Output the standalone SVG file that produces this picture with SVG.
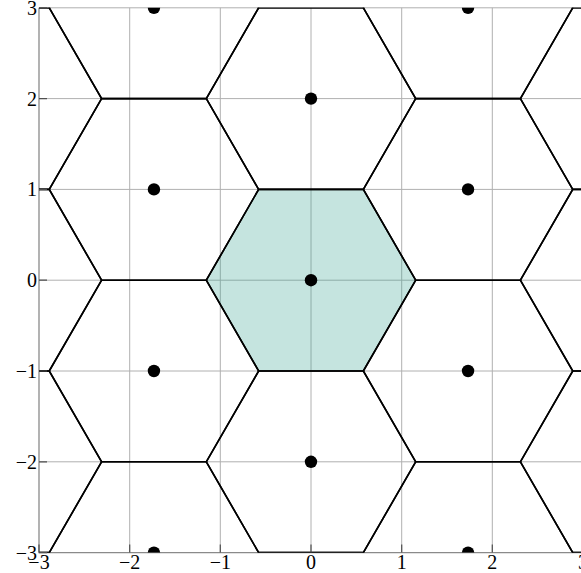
<svg xmlns="http://www.w3.org/2000/svg" xmlns:xlink="http://www.w3.org/1999/xlink" width="581" height="573" viewBox="0 0 581 573">
<style>
.grid{stroke:#b0b0b0;stroke-width:1;fill:none}
.frame{stroke:#8a8a8a;stroke-width:1.3;fill:none}
.tick{stroke:#505050;stroke-width:1.2}
.edge{fill:none;stroke:#000;stroke-width:1.6;stroke-linejoin:miter}
.pt{fill:#000}
text{font-family:"Liberation Serif","Times New Roman",serif;font-size:20px;fill:#000}
</style>
<defs>
<clipPath id="plot"><rect x="39" y="7.8" width="544" height="544.8"/></clipPath>
<path id="hex" d="M-104.7,0 L-52.35,-90.8 L52.35,-90.8 L104.7,0 L52.35,90.8 L-52.35,90.8 Z"/>
</defs>
<rect width="581" height="573" fill="#fff"/>
<g id="grid">
<path class="grid" d="M129.7,7.8V552.6M220.3,7.8V552.6M311,7.8V552.6M401.7,7.8V552.6M492.3,7.8V552.6M583,7.8V552.6M39,7.8H583M39,98.6H583M39,189.4H583M39,280.2H583M39,371H583M39,461.8H583"/>
<path class="frame" d="M39,7.8V552.6H583"/>
</g>
<g id="cell-center">
<use xlink:href="#hex" x="311" y="280.2" fill="#3ea594" fill-opacity="0.3"/>
</g>
<g id="connectors" clip-path="url(#plot)">
<use xlink:href="#hex" class="edge" x="311" y="280.2"/>
<use xlink:href="#hex" class="edge" x="311" y="98.6"/>
<use xlink:href="#hex" class="edge" x="311" y="461.8"/>
<use xlink:href="#hex" class="edge" x="311" y="-83"/>
<use xlink:href="#hex" class="edge" x="311" y="643.4"/>
<use xlink:href="#hex" class="edge" x="153.95" y="189.4"/>
<use xlink:href="#hex" class="edge" x="153.95" y="371"/>
<use xlink:href="#hex" class="edge" x="153.95" y="7.8"/>
<use xlink:href="#hex" class="edge" x="153.95" y="552.6"/>
<use xlink:href="#hex" class="edge" x="468.05" y="189.4"/>
<use xlink:href="#hex" class="edge" x="468.05" y="371"/>
<use xlink:href="#hex" class="edge" x="468.05" y="7.8"/>
<use xlink:href="#hex" class="edge" x="468.05" y="552.6"/>
<use xlink:href="#hex" class="edge" x="-3.09" y="280.2"/>
<use xlink:href="#hex" class="edge" x="-3.09" y="98.6"/>
<use xlink:href="#hex" class="edge" x="-3.09" y="461.8"/>
<use xlink:href="#hex" class="edge" x="-3.09" y="-83"/>
<use xlink:href="#hex" class="edge" x="-3.09" y="643.4"/>
<use xlink:href="#hex" class="edge" x="625.09" y="280.2"/>
<use xlink:href="#hex" class="edge" x="625.09" y="98.6"/>
<use xlink:href="#hex" class="edge" x="625.09" y="461.8"/>
<use xlink:href="#hex" class="edge" x="625.09" y="-83"/>
<use xlink:href="#hex" class="edge" x="625.09" y="643.4"/>
</g>
<g id="ticks">
<path class="tick" d="M39,7.8H47M39,98.6H47M39,189.4H47M39,280.2H47M39,371H47M39,461.8H47M39,552.6H47M39,552.6V544.6M129.7,552.6V544.6M220.3,552.6V544.6M311,552.6V544.6M401.7,552.6V544.6M492.3,552.6V544.6"/>
</g>
<g id="points" clip-path="url(#plot)">
<circle class="pt" cx="311" cy="280.2" r="6.2"/>
<circle class="pt" cx="311" cy="98.6" r="6.2"/>
<circle class="pt" cx="311" cy="461.8" r="6.2"/>
<circle class="pt" cx="153.95" cy="189.4" r="6.2"/>
<circle class="pt" cx="153.95" cy="371" r="6.2"/>
<circle class="pt" cx="468.05" cy="189.4" r="6.2"/>
<circle class="pt" cx="468.05" cy="371" r="6.2"/>
<circle class="pt" cx="153.95" cy="7.8" r="6.2"/>
<circle class="pt" cx="468.05" cy="7.8" r="6.2"/>
<circle class="pt" cx="153.95" cy="552.6" r="6.2"/>
<circle class="pt" cx="468.05" cy="552.6" r="6.2"/>
</g>
<g id="ylabels" text-anchor="end">
<text x="37" y="14.8">3</text>
<text x="37" y="105.6">2</text>
<text x="37" y="196.4">1</text>
<text x="37" y="287.2">0</text>
<text x="37" y="378">−1</text>
<text x="37" y="468.8">−2</text>
<text x="37" y="559.6">−3</text>
</g>
<g id="xlabels" text-anchor="middle">
<text x="39" y="569">−3</text>
<text x="129.7" y="569">−2</text>
<text x="220.3" y="569">−1</text>
<text x="311" y="569">0</text>
<text x="401.7" y="569">1</text>
<text x="492.3" y="569">2</text>
<text x="583" y="569">3</text>
</g>
</svg>
